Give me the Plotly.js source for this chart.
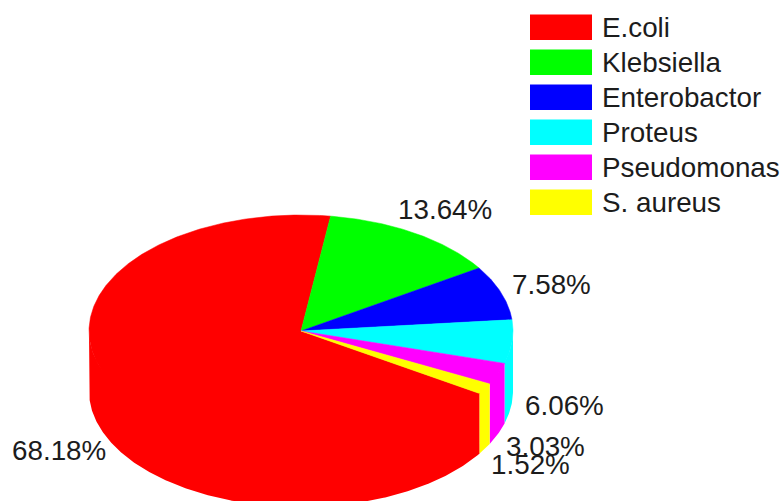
<!DOCTYPE html>
<html>
<head>
<meta charset="utf-8">
<script src="https://cdn.plot.ly/plotly-3.0.1.min.js"></script>
<style>html,body{margin:0;padding:0;background:#fff;overflow:hidden}#chart{width:783px;height:501px}</style>
</head>
<body>
<div id="chart"></div>
<script>
// Data
const categories = ["E.coli", "Klebsiella", "Enterobactor", "Proteus", "Pseudomonas", "S. aureus"];
const percents = [68.18, 13.64, 7.58, 6.06, 3.03, 1.52];
const colors = ["#ff0000", "#00ff00", "#0000ff", "#00ffff", "#ff00ff", "#ffff00"];

// Layout of the pretend-3D pie, in pixels of the 783x501 page
const W = 783, H = 501;
const pie = {cx: 301, cy: 331, rx: 212, ry: 116, depth: 60, startDeg: 122.6};
const labelPos = [[59, 450], [445, 209], [551, 284], [564, 405], [545, 446], [530, 464]];
const legendBox = {x0: 530, x1: 592, textX: 602, top: 14.5, step: 35, h: 25.5};
const labelSize = 27.8, legendSize = 27.8, textColor = "#1c1c1c", fontFamily = "Arial, 'Liberation Sans', sans-serif";

const total = percents.reduce((a, b) => a + b, 0);
const rimX = d => pie.cx + pie.rx * Math.sin(d * Math.PI / 180);
const rimY = (d, k = 1) => pie.cy - k * pie.ry * Math.cos(d * Math.PI / 180);

function arc(a, b) {
  const out = [], n = Math.max(2, Math.ceil((b - a) * 2));
  for (let i = 0; i <= n; i++) out.push(a + (b - a) * i / n);
  return out;
}

const walls = [], tops = [];
let angle = pie.startDeg;
percents.forEach((p, i) => {
  const a = angle, b = angle + p / total * 360;
  angle = b;
  // wall: only the part of the rim that faces the viewer; its upper edge runs
  // just inside the top face so that no seam shows between wall and top
  [0, -360].forEach(shift => {
    const lo = Math.max(a + shift, 90), hi = Math.min(b + shift, 270);
    if (hi > lo) {
      const ds = arc(lo, hi), rev = ds.slice().reverse();
      walls.push({
        type: "scatter", mode: "lines", fill: "toself", fillcolor: colors[i],
        line: {width: 0}, hoverinfo: "skip", showlegend: false, name: categories[i],
        x: ds.map(rimX).concat(rev.map(rimX)),
        y: ds.map(d => rimY(d, 0.97)).concat(rev.map(d => rimY(d) + pie.depth))
      });
    }
  });
  const ds = arc(a, b);
  tops.push({
    type: "scatter", mode: "lines", fill: "toself", fillcolor: colors[i],
    line: {width: 0.5, color: colors[i]}, hoverinfo: "skip", showlegend: false, name: categories[i],
    x: [pie.cx].concat(ds.map(rimX), [pie.cx]),
    y: [pie.cy].concat(ds.map(d => rimY(d)), [pie.cy])
  });
});

const shapes = categories.map((c, i) => ({
  type: "rect", xref: "x", yref: "y", layer: "above",
  x0: legendBox.x0, x1: legendBox.x1,
  y0: legendBox.top + i * legendBox.step, y1: legendBox.top + i * legendBox.step + legendBox.h,
  fillcolor: colors[i], line: {width: 0}
}));

const annotations = percents.map((p, i) => ({
  x: labelPos[i][0], y: labelPos[i][1], xref: "x", yref: "y",
  text: p.toFixed(2) + "%", showarrow: false, xanchor: "center", yanchor: "middle",
  font: {family: fontFamily, size: labelSize, color: textColor}
})).concat(categories.map((c, i) => ({
  x: legendBox.textX, y: legendBox.top + i * legendBox.step + legendBox.h / 2, xref: "x", yref: "y",
  text: c, showarrow: false, xanchor: "left", yanchor: "middle", xshift: -2,
  font: {family: fontFamily, size: legendSize, color: textColor}
})));

Plotly.newPlot("chart", walls.concat(tops), {
  width: W, height: H,
  margin: {l: 0, r: 0, t: 0, b: 0},
  paper_bgcolor: "#fff", plot_bgcolor: "#fff",
  showlegend: false,
  xaxis: {range: [0, W], visible: false, fixedrange: true},
  yaxis: {range: [H, 0], visible: false, fixedrange: true},
  shapes, annotations
}, {displayModeBar: false, staticPlot: true});
</script>
</body>
</html>
